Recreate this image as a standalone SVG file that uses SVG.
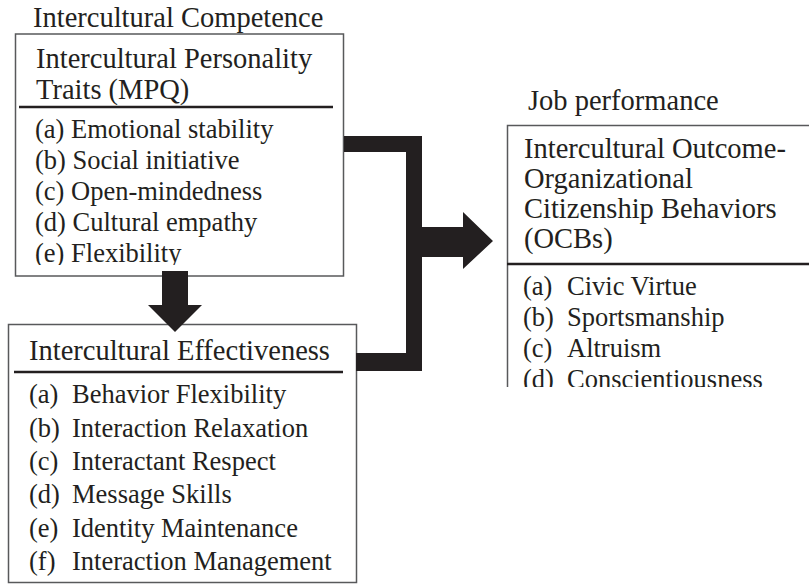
<svg xmlns="http://www.w3.org/2000/svg" width="809" height="585" viewBox="0 0 809 585">
<style>
.t{font-family:"Liberation Serif","Times New Roman",serif;fill:#231f20}
.h{font-size:28.5px}
.i{font-size:26.5px}
.box{fill:none;stroke:#58595b;stroke-width:1.5}
.sep{stroke:#231f20;stroke-width:2.5}
.conn{fill:#231f20}
</style>
<defs>
<clipPath id="c1"><rect x="15" y="34" width="330" height="231"/></clipPath>
<clipPath id="c3"><rect x="507" y="125" width="302" height="262"/></clipPath>
</defs>
<rect width="809" height="585" fill="#fff"/>
<g id="competence">
<text class="t h" x="33" y="27">Intercultural Competence</text>
<rect class="box" x="15.5" y="34" width="328" height="242"/>
<line class="sep" x1="19" y1="107" x2="333" y2="107"/>
<g clip-path="url(#c1)">
<text class="t h" x="36" y="68">Intercultural Personality</text>
<text class="t h" x="36" y="99">Traits (MPQ)</text>
<text class="t i" x="35" y="138">(a) Emotional stability</text>
<text class="t i" x="35" y="169">(b) Social initiative</text>
<text class="t i" x="35" y="200">(c) Open-mindedness</text>
<text class="t i" x="35" y="231">(d) Cultural empathy</text>
<text class="t i" x="35" y="262">(e) Flexibility</text>
</g>
</g>
<g id="effectiveness">
<rect class="box" x="8.5" y="324.5" width="348" height="258"/>
<text class="t h" x="29" y="360">Intercultural Effectiveness</text>
<line class="sep" x1="14" y1="372" x2="343" y2="372"/>
<text class="t i" x="29" y="403">(a)</text><text class="t i" x="72" y="403">Behavior Flexibility</text>
<text class="t i" x="29" y="437">(b)</text><text class="t i" x="72" y="437">Interaction Relaxation</text>
<text class="t i" x="29" y="470">(c)</text><text class="t i" x="72" y="470">Interactant Respect</text>
<text class="t i" x="29" y="503">(d)</text><text class="t i" x="72" y="503">Message Skills</text>
<text class="t i" x="29" y="537">(e)</text><text class="t i" x="72" y="537">Identity Maintenance</text>
<text class="t i" x="29" y="570">(f)</text><text class="t i" x="72" y="570">Interaction Management</text>
</g>
<g id="performance">
<text class="t h" x="528" y="110">Job performance</text>
<path class="box" d="M507.5,387 V125.5 H809"/>
<line class="sep" x1="507" y1="264" x2="809" y2="264"/>
<g clip-path="url(#c3)">
<text class="t h" x="524" y="158">Intercultural Outcome-</text>
<text class="t h" x="524" y="188">Organizational</text>
<text class="t h" x="524" y="218">Citizenship Behaviors</text>
<text class="t h" x="524" y="248">(OCBs)</text>
<text class="t i" x="523" y="295">(a)</text><text class="t i" x="567" y="295">Civic Virtue</text>
<text class="t i" x="523" y="326">(b)</text><text class="t i" x="567" y="326">Sportsmanship</text>
<text class="t i" x="523" y="357">(c)</text><text class="t i" x="567" y="357">Altruism</text>
<text class="t i" x="523" y="388">(d)</text><text class="t i" x="567" y="388">Conscientiousness</text>
</g>
</g>
<g id="connectors">
<polygon class="conn" points="162,271 188,271 188,305 202,305 175,332 148,305 162,305"/>
<polygon class="conn" points="344,136 422,136 422,371 356,371 356,353 406,353 406,152 344,152"/>
<polygon class="conn" points="420,227 463,227 463,212 493,241 463,269 463,257 420,257"/>
</g>
</svg>
